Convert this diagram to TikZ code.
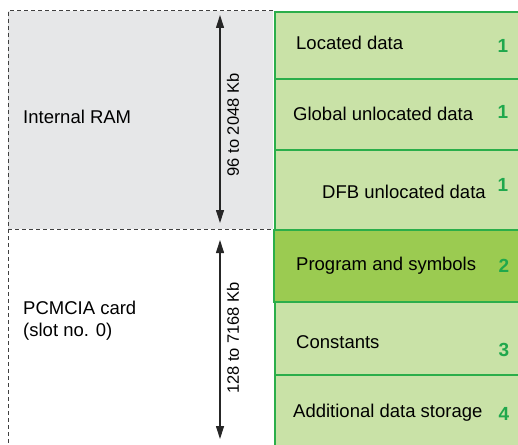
\documentclass[tikz,border=0pt]{standalone}
\usepackage{fontspec}
\setmainfont{Liberation Sans}
\usetikzlibrary{arrows.meta}
\definecolor{lightg}{HTML}{C9E2A7}
\definecolor{darkg}{HTML}{9BCB51}
\definecolor{borderg}{HTML}{2BAE4A}
\definecolor{numg}{HTML}{1FA84C}
\definecolor{ramgray}{HTML}{E6E7E8}
\definecolor{dashgray}{HTML}{404040}
\tikzset{
  cell/.style={draw=borderg, line width=1.8pt, fill=lightg, anchor=north west, inner sep=0pt},
  darkcell/.style={cell, fill=darkg},
  lbl/.style={anchor=west, inner sep=0pt, font=\fontsize{18.5}{22}\selectfont},
  num/.style={anchor=center, inner sep=0pt, text=numg, font=\fontsize{19}{22}\selectfont\bfseries},
  side/.style={anchor=west, inner sep=0pt, align=left, font=\fontsize{18.5}{22}\selectfont},
  sizelbl/.style={rotate=90, inner sep=0pt, font=\fontsize{16.5}{19}\selectfont},
  dim/.style={{Triangle[length=13pt,width=8pt]}-{Triangle[length=13pt,width=8pt]}, line width=1.1pt, black!85},
  dashbox/.style={draw=dashgray, dashed, dash pattern=on 4pt off 3pt, line width=1pt}
}
\begin{document}
\begin{tikzpicture}[x=1pt,y=-1pt]
\useasboundingbox (0,0) rectangle (518,444);
\begin{scope}
\clip (0,0) rectangle (518,444);
% internal RAM region
\node[fill=ramgray, anchor=north west, minimum width=265pt, minimum height=218pt, inner sep=0pt] (ram) at (8,11) {};
\draw[dashbox] (273,11) -- (8,11) -- (8,450);
\draw[dashbox] (8,229) -- (273,229);
% green cells
\node[cell, minimum width=260pt, minimum height=67pt] (c1) at (274,11) {};
\node[cell, minimum width=260pt, minimum height=71pt] (c2) at (274,78) {};
\node[cell, minimum width=260pt, minimum height=80pt] (c3) at (274,149) {};
\node[cell, minimum width=260pt, minimum height=145pt] (c5) at (274,301) {};
\node[cell, minimum width=260pt, minimum height=73pt] (c5a) at (274,301) {};
\node[darkcell, minimum width=262pt, minimum height=72pt] (c4) at (273,229) {};
\end{scope}
% cell labels
\node[lbl] (t1) at (296,43) {Located data};
\node[lbl] (t2) at (293,114) {Global unlocated data};
\node[lbl] (t3) at (322,192) {DFB unlocated data};
\node[lbl] (t4) at (296,266) {Program and symbols};
\node[lbl] (t5) at (296,342) {Constants};
\node[lbl] (t6) at (293,413) {Additional data storage};
\node[num] (n1) at (503,46) {1};
\node[num] (n2) at (503,112) {1};
\node[num] (n3) at (503,185) {1};
\node[num] (n4) at (504,266) {2};
\node[num] (n5) at (504,350) {3};
\node[num] (n6) at (504,414) {4};
% side labels
\node[side] (ramlbl) at (23,117) {Internal RAM};
\node[side] (pclbl) at (23,321) {PCMCIA card\\(slot no. 0)};
% dimension arrows
\coordinate (a1t) at (220,15);
\coordinate (a1b) at (220,223);
\coordinate (a2t) at (220,240);
\coordinate (a2b) at (220,439);
\draw[dim] (a1t) -- (a1b);
\draw[dim] (a2t) -- (a2b);
\node[sizelbl] (s1) at (233,125) {96 to 2048 Kb};
\node[sizelbl] (s2) at (233,338) {128 to 7168 Kb};
\end{tikzpicture}
\end{document}
